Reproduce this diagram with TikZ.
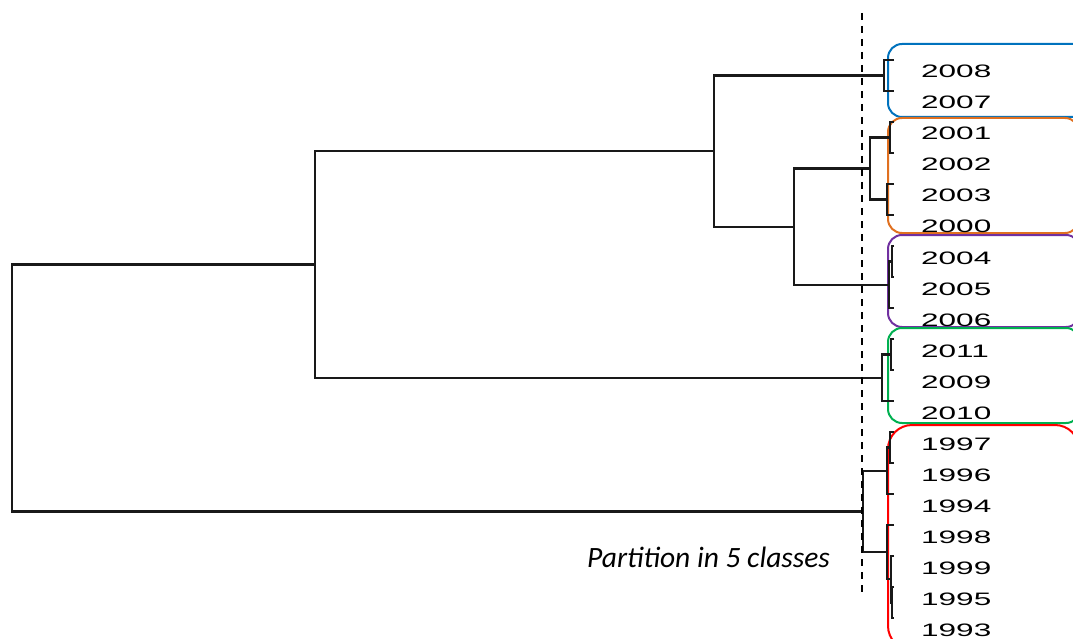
\documentclass[tikz,border=0pt]{standalone}
\usepackage{fontspec}
\setmainfont{Liberation Sans}
\newfontfamily\yearfont[FakeStretch=1.75]{Liberation Sans}
\newfontfamily\notefont{Carlito}

\definecolor{cblue}{RGB}{0,114,189}
\definecolor{corange}{RGB}{224,112,32}
\definecolor{cpurple}{RGB}{112,48,160}
\definecolor{cgreen}{RGB}{0,176,80}
\definecolor{cred}{RGB}{255,0,0}

\tikzset{
  link/.style={line width=2.2pt, black!90},
  cutline/.style={line width=2pt, black, dash pattern=on 7pt off 6pt},
  cluster/.style={line width=2pt, rounded corners=14pt},
  yearlabel/.style={anchor=base west, inner sep=0pt,
    font=\yearfont\fontsize{18}{20}\selectfont},
  note/.style={anchor=base west, inner sep=0pt,
    font=\notefont\itshape\fontsize{29.5}{34}\selectfont}
}

% join two subtrees at merge point #1
\newcommand{\joinat}[3]{\draw[link] (#2) -| (#1) |- (#3);}

\begin{document}
\begin{tikzpicture}[x=1pt,y=-1pt]
\clip (0,0) rectangle (1073,639);

% cluster frames
\draw[cluster, cblue]   (888,44)  rectangle (1090,117);
\draw[cluster, corange] (888,118) rectangle (1079,233);
\draw[cluster, cpurple] (888,235) rectangle (1080,327);
\draw[cluster, cgreen]  (888,328) rectangle (1080,423);
\draw[cluster, cred, rounded corners=24pt] (888,425) rectangle (1079,650);

% leaves and their labels
\foreach \yr [count=\i from 0] in
  {2008,2007,2001,2002,2003,2000,2004,2005,2006,2011,2009,2010,
   1997,1996,1994,1998,1999,1995,1993} {
  \coordinate (L\i) at (894,60+31*\i);
  \node[yearlabel] (T\i) at (921,78+31*\i) {\yr};
}

% merge points
\coordinate (bl) at (884,75.5);
\coordinate (o1) at (890,137.5);
\coordinate (o2) at (887,199.5);
\coordinate (o)  at (870,168.5);
\coordinate (p1) at (892,261.5);
\coordinate (p)  at (889,284.75);
\coordinate (g1) at (891,354.5);
\coordinate (g)  at (882,377.75);
\coordinate (r1) at (890,447.5);
\coordinate (r2) at (887,470.75);
\coordinate (r3) at (892,602.5);
\coordinate (r4) at (891,579.25);
\coordinate (r5) at (887,552.1);
\coordinate (r)  at (863,511.4);
\coordinate (op) at (794,226.6);
\coordinate (bop) at (714,151.1);
\coordinate (top) at (315,264.4);
\coordinate (root) at (12,387.9);

% dendrogram
\joinat{bl}{L0}{L1}
\joinat{o1}{L2}{L3}
\joinat{o2}{L4}{L5}
\joinat{o}{o1}{o2}
\joinat{p1}{L6}{L7}
\joinat{p}{p1}{L8}
\joinat{g1}{L9}{L10}
\joinat{g}{g1}{L11}
\joinat{r1}{L12}{L13}
\joinat{r2}{r1}{L14}
\joinat{r3}{L17}{L18}
\joinat{r4}{L16}{r3}
\joinat{r5}{L15}{r4}
\joinat{r}{r2}{r5}
\joinat{op}{o}{p}
\joinat{bop}{bl}{op}
\joinat{top}{bop}{g}
\joinat{root}{top}{r}

% cut level
\coordinate (cuttop) at (862,13);
\coordinate (cutbot) at (862,592);
\draw[cutline] (cuttop) -- (cutbot);

\node[note] (part) at (587,567) {Partition in 5 classes};
\end{tikzpicture}
\end{document}
